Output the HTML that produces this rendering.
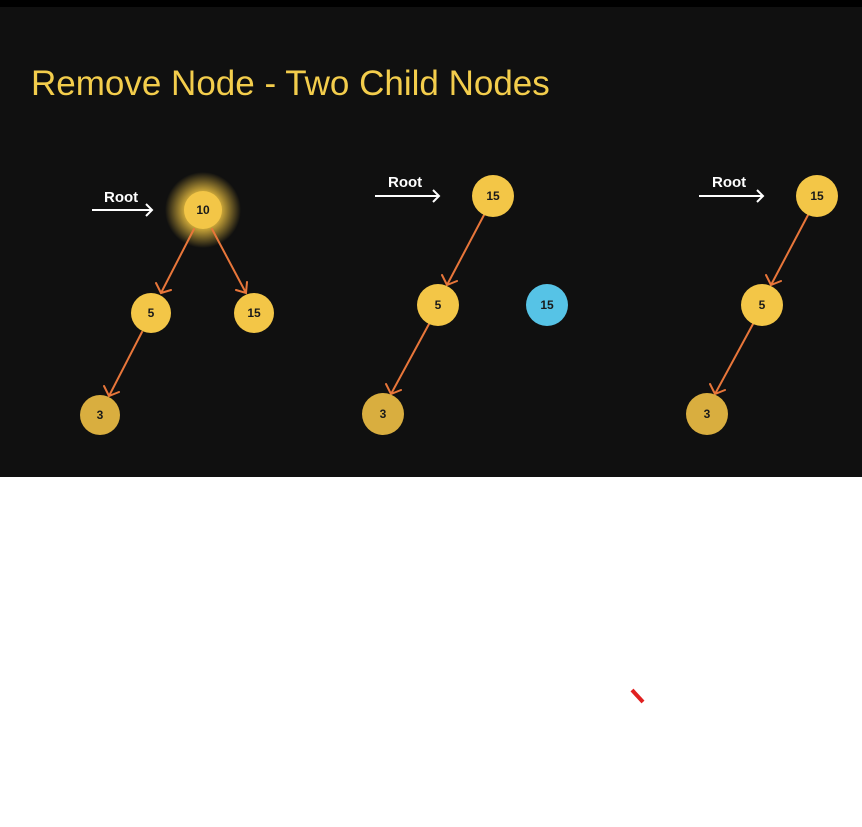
<!DOCTYPE html>
<html><head><style>
body{margin:0;width:862px;height:827px;background:#fff;overflow:hidden}
</style></head><body>
<svg width="862" height="827" xmlns="http://www.w3.org/2000/svg" style="position:absolute;left:0;top:0">
<defs>
<radialGradient id="glow"><stop offset="0.5" stop-color="#f5c842" stop-opacity="0.8"/><stop offset="1" stop-color="#f5c842" stop-opacity="0"/></radialGradient>
</defs>
<rect x="0" y="0" width="862" height="477" fill="#101010"/>
<rect x="0" y="0" width="862" height="7" fill="#000"/>
<text x="31" y="95" font-family="Liberation Sans, sans-serif" font-size="35" fill="#f3cd4c">Remove Node - Two Child Nodes</text>
<g font-family="Liberation Sans, sans-serif" font-size="15" fill="#fff" font-weight="bold">
<text x="104" y="202">Root</text><text x="388" y="187">Root</text><text x="712" y="187">Root</text>
</g>
<g stroke="#fff" stroke-width="2" fill="none">
<path d="M92 210H152M146 204L152 210L146 216"/>
<path d="M375 196H439M433 190L439 196L433 202"/>
<path d="M699 196H763M757 190L763 196L757 202"/>
</g>
<circle cx="203" cy="210" r="38" fill="url(#glow)"/>
<g stroke="#e8763a" stroke-width="2" fill="none" stroke-linecap="round">
<path d="M194 229L161 293M156 283L161 293L171 290"/>
<path d="M212 229L246 293M236 290L246 293L247 282"/>
<path d="M142 332L109 396M104 386L109 396L119 392"/>
<path d="M484 215L447 285M442 275L447 285L457 281"/>
<path d="M429 324L391 394M386 384L391 394L401 390"/>
<path d="M808 215L771 285M766 275L771 285L781 281"/>
<path d="M753 324L715 394M710 384L715 394L725 390"/>
</g>
<g fill="#f3c647">
<circle cx="203" cy="210" r="19"/><circle cx="151" cy="313" r="20"/><circle cx="254" cy="313" r="20"/>
<circle cx="100" cy="415" r="20" fill="#d9ae3f"/>
<circle cx="493" cy="196" r="21"/><circle cx="438" cy="305" r="21"/><circle cx="383" cy="414" r="21" fill="#d9ae3f"/>
<circle cx="817" cy="196" r="21"/><circle cx="762" cy="305" r="21"/><circle cx="707" cy="414" r="21" fill="#d9ae3f"/>
</g>
<circle cx="547" cy="305" r="21" fill="#56c3e6"/>
<g font-family="Liberation Sans, sans-serif" font-size="12" font-weight="bold" fill="#1a1a1a" text-anchor="middle">
<text x="203" y="214">10</text><text x="151" y="317">5</text><text x="254" y="317">15</text><text x="100" y="419">3</text>
<text x="493" y="200">15</text><text x="438" y="309">5</text><text x="547" y="309">15</text><text x="383" y="418">3</text>
<text x="817" y="200">15</text><text x="762" y="309">5</text><text x="707" y="418">3</text>
</g>
<path d="M632 690L643 702" stroke="#e02020" stroke-width="4"/>
</svg>
</body></html>
